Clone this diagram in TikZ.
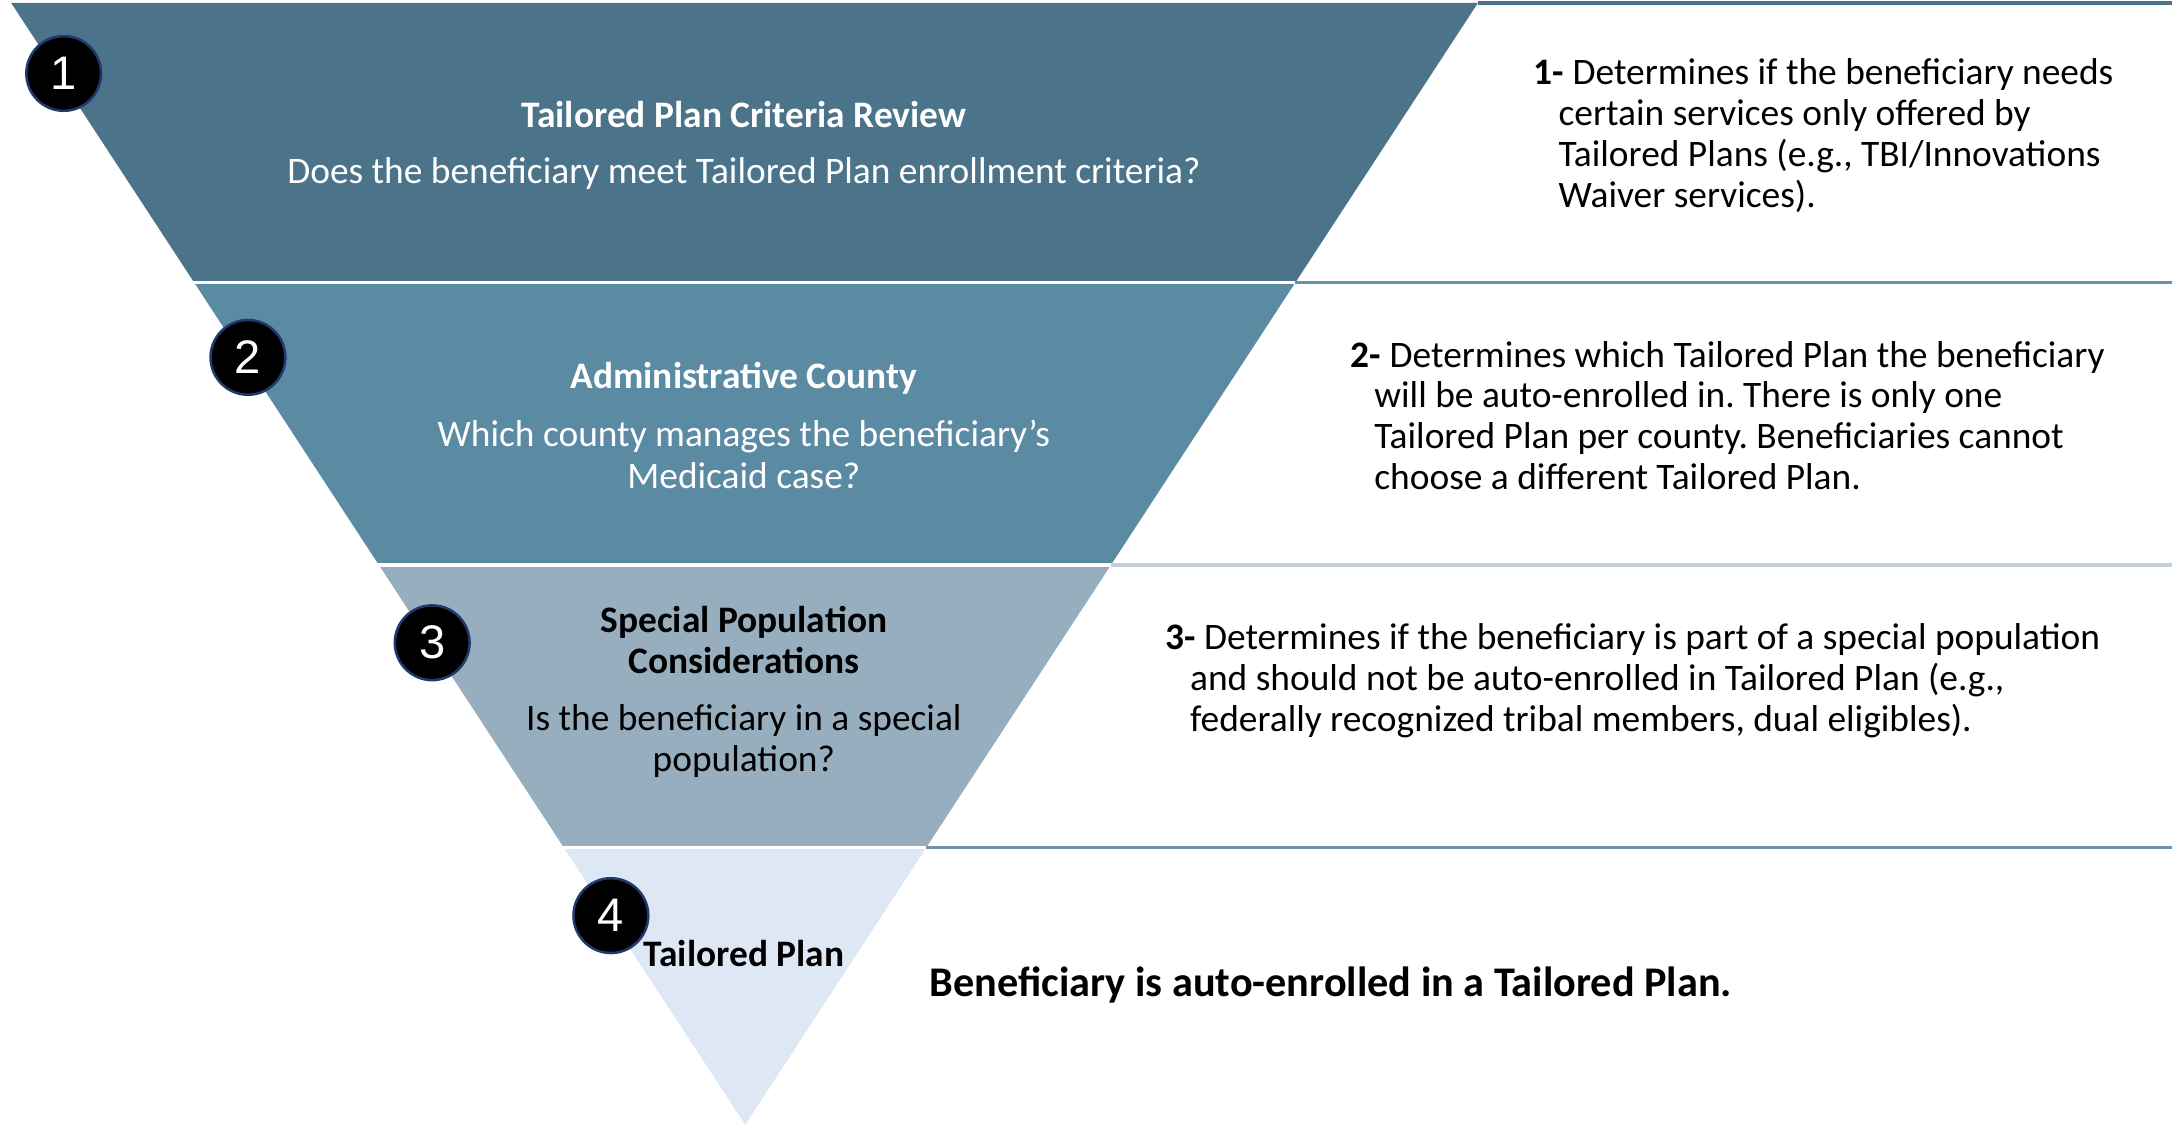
\documentclass[tikz,border=0pt]{standalone}
\usepackage{fontspec}
\setmainfont{Carlito}
\newfontfamily\numfont{Liberation Sans}
\frenchspacing
\definecolor{bandone}{HTML}{4B7389}
\definecolor{bandtwo}{HTML}{5B8AA3}
\definecolor{bandthree}{HTML}{97AEBE}
\definecolor{bandfour}{HTML}{DEE7F4}
\definecolor{ruleone}{HTML}{4B7389}
\definecolor{ruletwo}{HTML}{6690AA}
\definecolor{rulethree}{HTML}{C3D0DA}
\definecolor{rulefour}{HTML}{7393AB}
\definecolor{badgeline}{HTML}{1F3A6B}
\tikzset{
  badge/.style={circle,fill=black,draw=badgeline,line width=1.8pt,minimum size=54pt,
    inner sep=0pt,text=white,font=\numfont\fontsize{34}{34}\selectfont},
  title/.style={inner sep=0pt,align=center,font=\fontsize{27}{30}\selectfont\bfseries},
  question/.style={inner sep=0pt,align=center,font=\fontsize{27}{30}\selectfont},
  note/.style={inner sep=0pt,anchor=north west,align=left,font=\fontsize{27}{29.5}\selectfont}
}
\begin{document}
\begin{tikzpicture}[x=1pt,y=-1pt]
  \useasboundingbox (0,0) rectangle (1568,813.6);
  % funnel
  \fill[bandone] (8,2) -- (1067,2) -- (935.1,204) -- (140.2,204) -- cycle;
  \fill[bandtwo] (140.2,204) -- (935.1,204) -- (801.9,408) -- (273.6,408) -- cycle;
  \fill[bandthree] (273.6,408) -- (801.9,408) -- (668.6,612) -- (407.1,612) -- cycle;
  \fill[bandfour] (407.1,612) -- (668.6,612) -- (538,812) -- cycle;
  \draw[white,line width=2.5] (130,204) -- (940,204);
  \draw[white,line width=2.5] (265,408) -- (810,408);
  \draw[white,line width=2.5] (400,612) -- (675,612);
  % rules on the right
  \draw[ruleone,line width=3] (1067,2) -- (1568,2);
  \draw[ruletwo,line width=2.5] (935.1,204) -- (1568,204);
  \draw[rulethree,line width=2.5] (801.9,408) -- (1568,408);
  \draw[rulefour,line width=2.5] (668.6,612) -- (1568,612);

  % band texts
  \node[title,text=white] (t1) at (537,83) {Tailored Plan Criteria Review};
  \node[question,text=white] (q1) at (537,125) {Does the beneficiary meet Tailored Plan enrollment criteria?};
  \node[title,text=white] (t2) at (537,273) {Administrative County};
  \node[question,text=white] (q2) at (537,328) {Which county manages the beneficiary’s\\Medicaid case?};
  \node[title] (t3) at (537,462) {Special Population\\Considerations};
  \node[question] (q3) at (537,535) {Is the beneficiary in a special\\population?};
  \node[title] (t4) at (537,688) {Tailored Plan};

  % badges
  \node[badge] (b1) at (46,53) {1};
  \node[badge] (b2) at (179,258) {2};
  \node[badge] (b3) at (312,464) {3};
  \node[badge] (b4) at (441,661) {4};

  % notes
  \node[note] (n1) at (1107,42) {\textbf{1-} Determines if the beneficiary needs\\
    \hspace*{18pt}certain services only offered by\\
    \hspace*{18pt}Tailored Plans (e.g., TBI/Innovations\\
    \hspace*{18pt}Waiver services).};
  \node[note] (n2) at (975,246) {\textbf{2-} Determines which Tailored Plan the beneficiary\\
    \hspace*{17pt}will be auto-enrolled in. There is only one\\
    \hspace*{17pt}Tailored Plan per county. Beneficiaries cannot\\
    \hspace*{17pt}choose a different Tailored Plan.};
  \node[note] (n3) at (841,450) {\textbf{3-} Determines if the beneficiary is part of a special population\\
    \hspace*{18pt}and should not be auto-enrolled in Tailored Plan (e.g.,\\
    \hspace*{18pt}federally recognized tribal members, dual eligibles).};
  \node[inner sep=0pt,anchor=west,font=\fontsize{30.5}{32}\selectfont\bfseries] (n4) at (671,711)
    {Beneficiary is auto-enrolled in a Tailored Plan.};
\end{tikzpicture}
\end{document}
